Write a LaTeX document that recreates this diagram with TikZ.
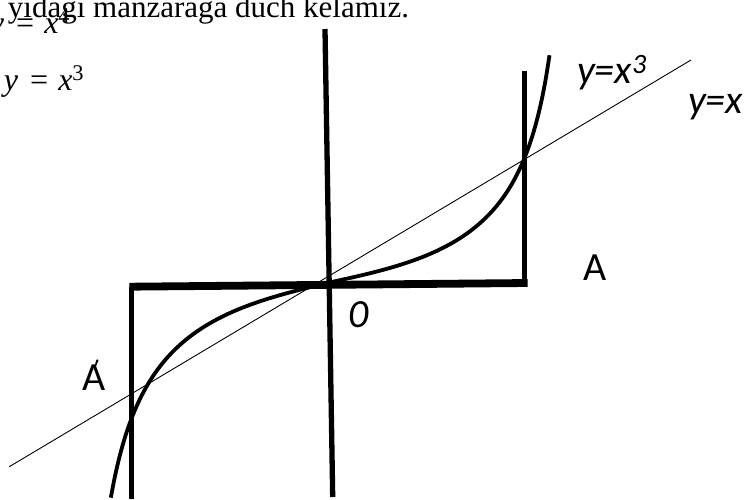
\documentclass[tikz,border=0pt]{standalone}
\usepackage{fontspec}
\setmainfont{Liberation Serif}
\newfontfamily\carlito{Carlito}
\usepackage{tikz}

\begin{document}
\begin{tikzpicture}[x=1pt,y=-1pt,declare function={cubv(\u)=0.4*tan(68.755*\u)-0.12*\u*(1-\u*\u);},every node/.style={inner sep=0pt,outer sep=0pt},axis/.style={line width=5.3pt},bar/.style={line width=7.8pt},leg/.style={line width=5pt},diag/.style={line width=0.9pt},cub/.style={line width=3.8pt},lbl/.style={font=\carlito\fontsize{40}{40}\selectfont},eq/.style={font=\fontsize{32}{32}\selectfont}]
\useasboundingbox (0,0) rectangle (748,499);
\coordinate (ytop) at (325,29);
\coordinate (ybot) at (332.7,497);
\coordinate (bl) at (129.3,286.7);
\coordinate (br) at (527.7,283);
\coordinate (ll) at (131.7,499);
\coordinate (rt) at (524.5,71);
\coordinate (dl) at (9.3,466.7);
\coordinate (dr) at (691,60);
\node[anchor=base east,font=\fontsize{31}{31}\selectfont] (title) at (409,17) {yidagi manzaraga duch kelamiz.};
\node[eq,anchor=base west] (eqfour) at (-10,33) {\textit{y}\hspace{12pt}=\hspace{10pt}\textit{x}\textsuperscript{4}};
\node[eq,anchor=base west] (eqthree) at (4,90) {\textit{y}\hspace{12pt}=\hspace{10pt}\textit{x}\textsuperscript{3}};
\node[lbl,anchor=base west] (cubic) at (577,83) {\itshape y=x\textsuperscript{3}};
\node[lbl,anchor=base west] (ident) at (688,113) {\itshape y=x};
\node[lbl,anchor=base west] (A) at (583,280) {A};
\node[lbl,anchor=base west] (zero) at (348,327) {\itshape 0};
\node[lbl,anchor=base west] (Aprime) at (82,390) {A\kern-12pt\raisebox{19pt}{\fontsize{20}{20}\selectfont$\prime$}};
\draw[axis] (ytop)--(ybot);
\draw[leg] (ll)--(ll |- bl);
\draw[leg] (rt)--(rt |- br);
\draw[bar] (bl)--(br);
\draw[diag] (dl)--(dr);
\draw[cub] plot[domain=-1.103:0,samples=60,smooth] ({327+196*\x},{283-133*cubv(\x)}) -- plot[domain=0:1.136,samples=60,smooth] ({327+196*\x},{283-118*cubv(\x)});
\end{tikzpicture}
\end{document}
